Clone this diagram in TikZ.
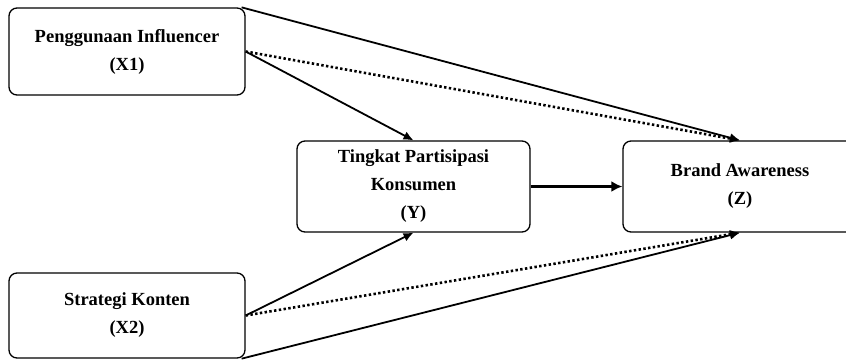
\documentclass[tikz,border=0pt]{standalone}
\usepackage{fontspec}
\setmainfont{Liberation Serif}
\usetikzlibrary{arrows.meta}
\begin{document}
\begin{tikzpicture}[x=1pt,y=-1pt,
  box/.style={draw, line width=1.3pt, rounded corners=8pt, align=center,
    font=\fontsize{18.5}{28}\selectfont\bfseries, inner sep=0pt},
  link/.style={line width=1.8pt, -{Latex[length=10pt,width=9pt]}},
  dotlink/.style={line width=2.6pt, dash pattern=on 2.4pt off 2.4pt, -{Latex[length=10pt,width=9pt]}}]
\useasboundingbox (0,0) rectangle (846,360);
\clip (0,0) rectangle (846,360);
\node[box, minimum width=236pt, minimum height=87pt] (x1) at (127,51.5) {Penggunaan Influencer\\(X1)};
\node[box, minimum width=236pt, minimum height=85pt] (x2) at (127,315.5) {Strategi Konten\\(X2)};
\node[box, minimum width=233pt, minimum height=91pt] (y) at (413.5,186.5) {Tingkat Partisipasi\\Konsumen\\(Y)};
\node[box, minimum width=234pt, minimum height=91pt] (z) at (740,186.5) {Brand Awareness\\(Z)};
\draw[link] ([xshift=-4pt]x1.north east) -- (z.north);
\draw[dotlink] (x1.east) -- (z.north);
\draw[link] (x1.east) -- (y.north);
\draw[link, line width=2.6pt, -{Latex[length=11pt,width=11pt]}] (y.east) -- (z.west);
\draw[link] (x2.east) -- (y.south);
\draw[dotlink] (x2.east) -- (z.south);
\draw[link] ([xshift=-4pt]x2.south east) -- (z.south);
\end{tikzpicture}
\end{document}
